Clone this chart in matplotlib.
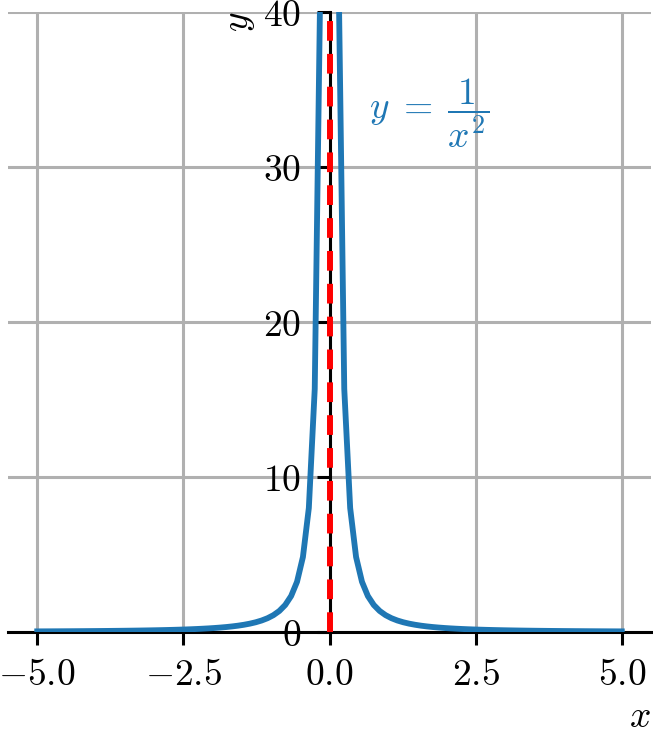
import numpy as np
import matplotlib
matplotlib.use('Agg')
import matplotlib.pyplot as plt
from matplotlib.ticker import FuncFormatter, FixedLocator

plt.rcParams['mathtext.fontset'] = 'cm'
plt.rcParams['font.family'] = 'serif'
plt.rcParams['font.serif'] = ['DejaVu Serif']

# Data: the plotted function y = 1/x^2, sampled on 100 points
x_samples = np.linspace(-5, 5, 100)
y_values = 1 / x_samples**2
x_ticks = [-5.0, -2.5, 0.0, 2.5, 5.0]
y_ticks = [0, 10, 20, 30, 40]
asymptote_x = 0.0
label_text = r'$y\;=\;\dfrac{1}{x^2}$'
label_pos = (0.68, 33.5)

FS = 27

fig = plt.figure(figsize=(6.53, 7.37), dpi=100)
ax = fig.add_axes([8/653, 105/737, 643/653, 620/737])

ax.set_xlim(-5.5, 5.5)
ax.set_ylim(0, 40)
ax.set_axisbelow(True)
ax.grid(True, color='#b0b0b0', linewidth=2.2)

ax.plot(x_samples, y_values, color='#1f77b4', linewidth=4.2, zorder=3)
ax.axvline(asymptote_x, color='red', linestyle=(0, (3.3, 2.2)), linewidth=4.3, zorder=4)

ax.text(label_pos[0], label_pos[1], label_text, color='#1f77b4', fontsize=FS,
        ha='left', va='center')

for s in ['top', 'right']:
    ax.spines[s].set_visible(False)
ax.spines['left'].set_position(('data', 0))
ax.spines['bottom'].set_position(('data', 0))
for s in ['left', 'bottom']:
    ax.spines[s].set_linewidth(2.2)

ax.xaxis.set_major_locator(FixedLocator(x_ticks))
ax.yaxis.set_major_locator(FixedLocator(y_ticks))
ax.xaxis.set_major_formatter(FuncFormatter(lambda v, p: f'${v:.1f}$'))
ax.yaxis.set_major_formatter(FuncFormatter(lambda v, p: f'${v:g}$'))
ax.tick_params(axis='both', labelsize=FS, width=2.2, length=9.5)
ax.tick_params(axis='x', pad=8.5)
ax.tick_params(axis='y', pad=11)

ax.set_xlabel('$x$', loc='right', fontsize=FS)
ax.set_ylabel('$y$', loc='top', fontsize=FS)

fig.savefig('out.png', dpi=100)
